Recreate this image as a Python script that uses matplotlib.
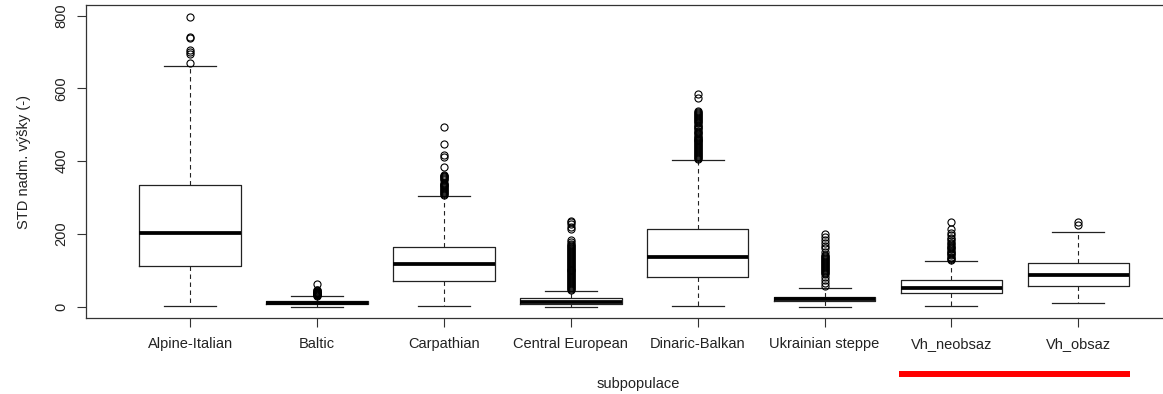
import matplotlib
matplotlib.use("Agg")
import matplotlib.pyplot as plt
import matplotlib.transforms as mtransforms

# stats
groups = ["Alpine-Italian", "Baltic", "Carpathian", "Central European",
          "Dinaric-Balkan", "Ukrainian steppe", "Vh_neobsaz", "Vh_obsaz"]
q1 = [111, 6.6, 70.6, 6.6, 81.6, 15.7, 36.8, 57.7]
med = [201.8, 11.5, 116.5, 13.5, 137.5, 21, 50.6, 87]
q3 = [333.7, 16.5, 165, 23, 213, 27.5, 73.4, 119]
whislo = [2.7, 0, 2, 0, 2, 0, 2, 10]
whishi = [661, 29.4, 305, 44, 403, 52, 126.5, 206]

fliers_alpine = [796, 742, 737, 705, 700, 695, 670]
fliers_baltic = [30.5, 31.2, 32.4, 33.1, 34.6, 35.3, 36.8, 37.5, 38.9, 40.2,
                 41.7, 43.1, 44.6, 46.0, 61.5]
fliers_carpathian = [307.1, 309.6, 312.3, 314.8, 317.5, 320.0, 322.7, 325.2,
                     327.9, 330.4, 333.1, 335.6, 338.3, 340.8, 347.2, 349.9,
                     352.5, 355.1, 357.8, 360.4, 363.0, 383, 411, 417, 446, 495]
fliers_central = [46.5, 48.8, 51.6, 54.1, 56.9, 59.3, 62.2, 64.7, 67.5, 70.1,
                  72.8, 75.6, 78.1, 80.9, 83.4, 86.2, 88.9, 91.5, 94.3, 96.8,
                  99.6, 102.2, 104.9, 107.7, 110.3, 113.0, 115.8, 118.4, 121.1,
                  123.9, 126.5, 129.2, 132.0, 134.6, 137.3, 140.1, 142.7,
                  145.4, 148.2, 150.8, 153.5, 156.3, 158.9, 161.6, 164.4,
                  167.0, 169.7, 172, 178, 183, 213, 220, 227, 232, 236]
fliers_dinaric = [406.2, 408.9, 411.5, 414.3, 416.8, 419.6, 422.1, 424.9,
                  427.4, 430.2, 432.8, 435.5, 438.1, 440.9, 443.4, 446.2,
                  448.7, 451.5, 454.0, 456.8, 459.3, 462.1, 464.6, 467.4,
                  469.9, 475.2, 477.9, 480.5, 483.1, 489.0, 491.7, 494.3,
                  497.0, 499.4, 505.1, 507.8, 510.4, 513.1, 515.7, 518.4,
                  521.0, 523.7, 526.3, 529.0, 531.6, 534.2, 536.5, 573, 584]
fliers_ukraine = [56, 64, 74, 83, 90.5, 93.1, 95.8, 98.4, 101.1, 103.7, 106.4,
                  109.0, 111.7, 114.3, 117.0, 119.6, 122.3, 124.9, 127.6,
                  130.2, 132.9, 135.5, 138.2, 140.8, 151, 160, 168, 176, 183,
                  191, 200]
fliers_vhneo = [128, 131, 134, 137.5, 141, 144, 147.5, 151, 154, 157.5, 161,
                164, 168, 172, 176, 180, 185, 190, 196, 202, 213, 234]
fliers_vhobs = [234, 225]

fliers = [fliers_alpine, fliers_baltic, fliers_carpathian, fliers_central,
          fliers_dinaric, fliers_ukraine, fliers_vhneo, fliers_vhobs]

plt.rcParams['font.family'] = ['Liberation Sans', 'DejaVu Sans']
plt.rcParams['font.size'] = 10.5

stats = []
for i, g in enumerate(groups):
    stats.append(dict(label=g, q1=q1[i], med=med[i], q3=q3[i],
                      whislo=whislo[i], whishi=whishi[i], fliers=fliers[i]))

fig = plt.figure(figsize=(11.63, 3.94), dpi=100)
ax = fig.add_axes([0.07395, 0.1929, 0.9493, 0.7944])

pos = list(range(1, len(groups) + 1))
ax.bxp(stats, positions=pos, widths=0.8, capwidths=0.41,
       boxprops=dict(color='#222222', linewidth=0.9),
       medianprops=dict(color='black', linewidth=2.7, solid_capstyle='butt'),
       whiskerprops=dict(color='#222222', linewidth=0.8, linestyle=(0, (4, 3.2))),
       capprops=dict(color='#222222', linewidth=0.9),
       flierprops=dict(marker='o', markersize=5.1, markerfacecolor='none',
                       markeredgecolor='black', markeredgewidth=0.8))

ax.set_xlim(0.18, 8.88)
ax.set_ylim(-31, 829)
ax.set_yticks([0, 200, 400, 600, 800])
ax.set_xticks(pos)
ax.set_xticklabels(groups)

for s in ax.spines.values():
    s.set_color('#333333')
    s.set_linewidth(0.9)

ax.tick_params(axis='y', labelrotation=90, length=6.3, width=0.8, pad=6.5,
               color='#333333', labelcolor='#222222')
ax.tick_params(axis='x', length=6.5, width=0.8, pad=7.2,
               color='#333333', labelcolor='#222222')
for t in ax.get_yticklabels():
    t.set_va('center')

ax.set_ylabel("STD nadm. výšky (-)", color='#222222', va='center')
ax.yaxis.set_label_coords(-0.056, 0.5)
ax.set_xlabel("subpopulace", color='#222222', va='center')
ax.xaxis.set_label_coords(0.5, -0.211)

# red underline below the two Vh groups
trans = mtransforms.blended_transform_factory(ax.transData, fig.transFigure)
ax.plot([pos[6] - 0.41, pos[7] + 0.41], [0.052, 0.052], color='red',
        linewidth=4.3, solid_capstyle='butt', transform=trans, clip_on=False)

fig.savefig("out.png", dpi=100)
